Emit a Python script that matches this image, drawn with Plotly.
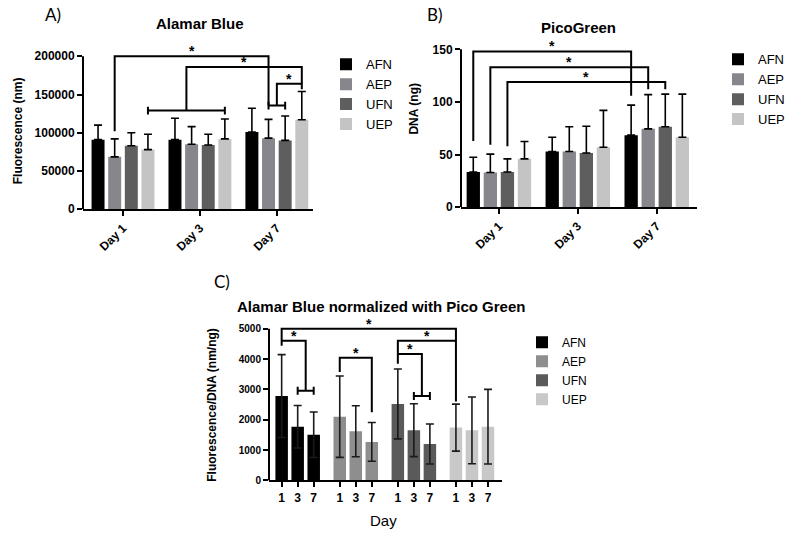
import plotly.graph_objects as go

W, H = 800, 543
FONT = "Liberation Sans, Arial, sans-serif"

# ---------------- data ----------------
series = ["AFN", "AEP", "UFN", "UEP"]
bar_colors = ["#000000", "#86868c", "#5e5e5e", "#c4c4c4"]
c_colors = ["#000000", "#8e8e8e", "#5a5a5a", "#c8c8c8"]
day_labels = ["Day 1", "Day 3", "Day 7"]
c_day_labels = ["1", "3", "7"]

# Panel A - Alamar Blue fluorescence (mean, upper SD)
alamar_afn = [91000, 91000, 101000]
alamar_aep = [68500, 85000, 93000]
alamar_ufn = [83000, 84000, 90000]
alamar_uep = [78000, 92000, 117000]
alamar_afn_sd = [19000, 28000, 31000]
alamar_aep_sd = [23500, 23000, 24500]
alamar_ufn_sd = [17000, 14000, 32000]
alamar_uep_sd = [20000, 26000, 37000]

# Panel B - PicoGreen DNA (ng)
pico_afn = [33.5, 53, 68.5]
pico_aep = [33, 53, 74.5]
pico_ufn = [33.5, 51.5, 76.5]
pico_uep = [46, 57, 66.5]
pico_afn_sd = [14, 13.5, 28.5]
pico_aep_sd = [17.5, 23.5, 32.5]
pico_ufn_sd = [12.5, 25.5, 31]
pico_uep_sd = [16.5, 35, 41]

# Panel C - Alamar Blue normalized with PicoGreen (nm/ng)
norm_afn = [2780, 1770, 1505]
norm_aep = [2100, 1620, 1270]
norm_ufn = [2520, 1655, 1200]
norm_uep = [1740, 1650, 1770]
norm_afn_sd = [1365, 700, 750]
norm_aep_sd = [1340, 840, 640]
norm_ufn_sd = [1150, 870, 660]
norm_uep_sd = [775, 1100, 1230]

alamar = [alamar_afn, alamar_aep, alamar_ufn, alamar_uep]
alamar_sd = [alamar_afn_sd, alamar_aep_sd, alamar_ufn_sd, alamar_uep_sd]
pico = [pico_afn, pico_aep, pico_ufn, pico_uep]
pico_sd = [pico_afn_sd, pico_aep_sd, pico_ufn_sd, pico_uep_sd]
norm = [norm_afn, norm_aep, norm_ufn, norm_uep]
norm_sd = [norm_afn_sd, norm_aep_sd, norm_ufn_sd, norm_uep_sd]

# ---------------- layout geometry ----------------
BARGAP = 0.135
SLOT = (1 - BARGAP) / 4
C_GROUP = 3.625
C_WIDTH = 0.78


def pos(s, d):
    return d + (s - 1.5) * SLOT


def cpos(s, d):
    return s * C_GROUP + d


def xdom(l, r):
    return [l / W, r / W]


def ydom(bottom_px, tick_px, tick_val, top_val):
    top_px = bottom_px - top_val * (bottom_px - tick_px) / tick_val
    return [1 - bottom_px / H, 1 - top_px / H]


fig = go.Figure()

# Panel A bars
for i, s in enumerate(series):
    fig.add_trace(go.Bar(
        x=[0, 1, 2], y=alamar[i], name=s, marker=dict(color=bar_colors[i], line=dict(width=0)),
        error_y=dict(type="data", array=alamar_sd[i], arrayminus=[0, 0, 0], symmetric=False,
                     color="black", thickness=1.6, width=4),
        xaxis="x", yaxis="y", legend="legend", hoverinfo="skip"))
# Panel B bars
for i, s in enumerate(series):
    fig.add_trace(go.Bar(
        x=[0, 1, 2], y=pico[i], name=s, marker=dict(color=bar_colors[i], line=dict(width=0)),
        error_y=dict(type="data", array=pico_sd[i], arrayminus=[0, 0, 0], symmetric=False,
                     color="black", thickness=1.6, width=4),
        xaxis="x2", yaxis="y2", legend="legend2", hoverinfo="skip"))
# Panel C bars
for i, s in enumerate(series):
    fig.add_trace(go.Bar(
        x=[cpos(i, d) for d in range(3)], y=norm[i], name=s,
        width=C_WIDTH, offset=-C_WIDTH / 2,
        marker=dict(color=c_colors[i], line=dict(width=0)),
        error_y=dict(type="data", array=norm_sd[i], color="#1a1a1a", thickness=1.6, width=4),
        xaxis="x3", yaxis="y3", legend="legend3", hoverinfo="skip"))

shapes = []
annotations = []


def poly(pts, xr, yr):
    path = "M " + " L ".join(f"{x},{y}" for x, y in pts)
    shapes.append(dict(type="path", path=path, xref=xr, yref=yr,
                       line=dict(color="black", width=2)))


def capped(x0, x1, y, cap, xr, yr):
    poly([(x0, y), (x1, y)], xr, yr)
    poly([(x0, y - cap), (x0, y + cap)], xr, yr)
    poly([(x1, y - cap), (x1, y + cap)], xr, yr)


def star(x, y, xr, yr):
    annotations.append(dict(x=x, y=y, xref=xr, yref=yr, text="*", showarrow=False,
                            yanchor="bottom", yshift=-5,
                            font=dict(family=FONT, size=14, color="black", weight="bold")))


# ---- Panel A brackets ----
a_mid7 = (pos(1, 2) + pos(2, 2)) / 2
a_mid13 = (pos(3, 0) + pos(3, 1)) / 2
poly([(pos(1, 0), 102000), (pos(1, 0), 200000), (pos(1, 2), 200000), (pos(1, 2), 135500)], "x", "y")
star((pos(1, 0) + pos(1, 2)) / 2, 200000, "x", "y")
capped(pos(1, 2), pos(2, 2), 135500, 5000, "x", "y")
poly([(a_mid7, 135500), (a_mid7, 164000), (pos(3, 2), 164000), (pos(3, 2), 157000)], "x", "y")
star((a_mid7 + pos(3, 2)) / 2, 164000, "x", "y")
capped(pos(3, 0), pos(3, 1), 129000, 5000, "x", "y")
poly([(a_mid13, 129000), (a_mid13, 186000), (pos(3, 2), 186000), (pos(3, 2), 164000)], "x", "y")
star((a_mid13 + pos(3, 2)) / 2, 186000, "x", "y")

# ---- Panel B brackets ----
for s, low, top, right_low in [(0, 63, 148, 106), (1, 59.5, 133, 112), (2, 58, 119, 112)]:
    poly([(pos(s, 0), low), (pos(s, 0), top), (pos(s, 2), top), (pos(s, 2), right_low)], "x2", "y2")
    star((pos(s, 0) + pos(s, 2)) / 2, top, "x2", "y2")

# ---- Panel C brackets ----
poly([(cpos(0, 0), 4440), (cpos(0, 0), 5000), (cpos(3, 0), 5000), (cpos(3, 0), 2600)], "x3", "y3")
star((cpos(0, 0) + cpos(3, 0)) / 2, 5000, "x3", "y3")
c_midA = (cpos(0, 1) + cpos(0, 2)) / 2
poly([(cpos(0, 0), 4600), (c_midA, 4600), (c_midA, 2955)], "x3", "y3")
capped(cpos(0, 1), cpos(0, 2), 2955, 130, "x3", "y3")
star((cpos(0, 0) + c_midA) / 2, 4600, "x3", "y3")
poly([(cpos(1, 0), 3570), (cpos(1, 0), 4040), (cpos(1, 2), 4040), (cpos(1, 2), 2250)], "x3", "y3")
star((cpos(1, 0) + cpos(1, 2)) / 2, 4040, "x3", "y3")
poly([(cpos(2, 0), 3845), (cpos(2, 0), 4600), (cpos(3, 0), 4600)], "x3", "y3")
star((cpos(2, 0) + cpos(3, 0)) / 2, 4600, "x3", "y3")
c_midU = (cpos(2, 1) + cpos(2, 2)) / 2
poly([(cpos(2, 0), 4170), (c_midU, 4170), (c_midU, 2780)], "x3", "y3")
capped(cpos(2, 1), cpos(2, 2), 2780, 130, "x3", "y3")
star((cpos(2, 0) + c_midU) / 2, 4170, "x3", "y3")

# y axis lines (stop at the top tick like the original)
for yr, top in [("y", 200000), ("y2", 150), ("y3", 5000)]:
    xr = {"y": "x", "y2": "x2", "y3": "x3"}[yr]
    shapes.append(dict(type="line", xref=f"{xr} domain", yref=yr, x0=0, x1=0, y0=0, y1=top,
                       line=dict(color="black", width=2)))


def txt(x, y, text, size, bold=False, angle=0, family=FONT):
    annotations.append(dict(x=x / W, y=1 - y / H, xref="paper", yref="paper", text=text,
                            showarrow=False, textangle=angle, xanchor="center", yanchor="middle",
                            font=dict(family=family, size=size, color="black",
                                      weight="bold" if bold else "normal")))


txt(53, 15, "A)", 17, family="Lato, Open Sans, sans-serif")
txt(435, 15, "B)", 17, family="Lato, Open Sans, sans-serif")
txt(222, 285, "C)", 17, family="Lato, Open Sans, sans-serif")
txt(200, 24, "Alamar Blue", 15, True)
txt(578, 28, "PicoGreen", 15, True)
txt(381, 311, "Alamar Blue normalized with Pico Green", 15, True)
txt(18, 133, "Fluorescence (nm)", 12, True, -90)
txt(414, 110, "DNA (ng)", 12, True, -90)
txt(212, 410, "Fluorescence/DNA (nm/ng)", 12, True, -90)
txt(383, 527, "Day", 15)

axis_common = dict(showgrid=False, zeroline=False, ticks="outside", ticklen=5, tickwidth=2,
                   tickcolor="black", linecolor="black", linewidth=2)
bold12 = dict(family=FONT, size=12, color="black", weight="bold")
bold10 = dict(family=FONT, size=10, color="black", weight="bold")

fig.update_layout(
    width=W, height=H, margin=dict(l=0, r=0, t=0, b=0),
    paper_bgcolor="white", plot_bgcolor="white",
    barmode="group", bargap=BARGAP, bargroupgap=0.22,
    font=dict(family=FONT, color="black"),
    xaxis=dict(domain=xdom(83, 313), anchor="y", range=[-0.52, 2.47], tickvals=[0, 1, 2],
               ticktext=day_labels, tickangle=-45, showline=True, tickfont=bold12, **axis_common),
    yaxis=dict(domain=ydom(212, 57, 200000, 222000), anchor="x", range=[0, 222000],
               tickvals=[0, 50000, 100000, 150000, 200000], tickformat="d", showline=False,
               tickfont=bold12, **axis_common),
    xaxis2=dict(domain=xdom(461, 697), anchor="y2", range=[-0.48, 2.51], tickvals=[0, 1, 2],
                ticktext=day_labels, tickangle=-45, showline=True, tickfont=bold12, **axis_common),
    yaxis2=dict(domain=ydom(210, 50, 150, 162), anchor="x2", range=[0, 162],
                tickvals=[0, 50, 100, 150], showline=False, tickfont=bold12, **axis_common),
    xaxis3=dict(domain=xdom(269, 502), anchor="y3", range=[-0.79, 13.75],
                tickvals=[cpos(s, d) for s in range(4) for d in range(3)],
                ticktext=c_day_labels * 4, showline=True,
                tickfont=dict(family=FONT, size=12, color="black", weight="bold"), **axis_common),
    yaxis3=dict(domain=ydom(486.7, 333, 5000, 5300), anchor="x3", range=[0, 5300],
                tickvals=[0, 1000, 2000, 3000, 4000, 5000], tickformat="d", showline=False,
                tickfont=bold10, **axis_common),
    legend=dict(x=326 / W, y=1 - 50 / H, xanchor="left", yanchor="top",
                font=dict(family=FONT, size=13, color="black"), bgcolor="rgba(0,0,0,0)"),
    legend2=dict(x=718 / W, y=1 - 45 / H, xanchor="left", yanchor="top",
                 font=dict(family=FONT, size=13, color="black"), bgcolor="rgba(0,0,0,0)"),
    legend3=dict(x=522 / W, y=1 - 332 / H, xanchor="left", yanchor="top",
                 font=dict(family=FONT, size=12, color="black"), bgcolor="rgba(0,0,0,0)"),
    shapes=shapes, annotations=annotations,
)

fig.write_html("out.html", config={"displayModeBar": False},
               post_script="document.body.style.margin='0';")
